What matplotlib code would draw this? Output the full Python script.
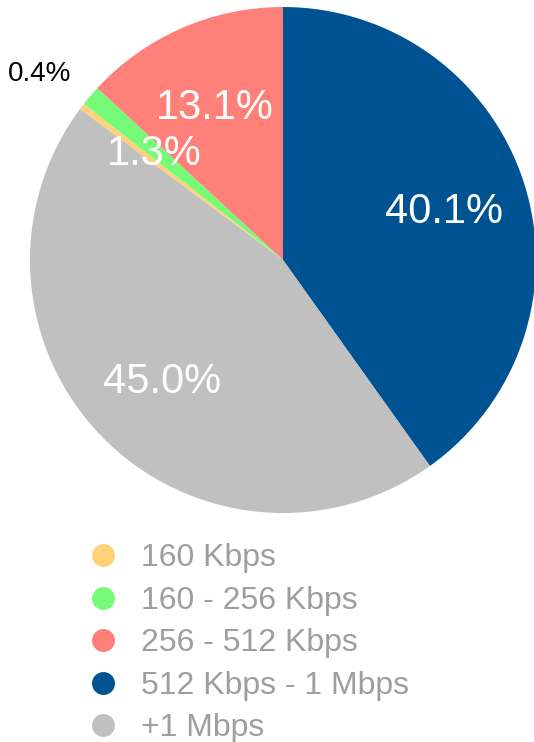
import matplotlib.pyplot as plt
from matplotlib.lines import Line2D

plt.rcParams['font.family'] = ['Liberation Sans', 'DejaVu Sans']

# legend order
labels = ["160 Kbps", "160 - 256 Kbps", "256 - 512 Kbps", "512 Kbps - 1 Mbps", "+1 Mbps"]
shares = [0.4, 1.3, 13.1, 40.1, 45.0]
colors = ["#FFD27A", "#75FB77", "#FF7F79", "#005392", "#C0C0C0"]

# order the slices are drawn, clockwise from 12 o'clock
draw_order = [3, 4, 0, 1, 2]

fig = plt.figure(figsize=(5.34, 7.42), dpi=100)
ax = fig.add_axes([0, 0, 1, 1])

vals = [shares[i] for i in draw_order]
cols = [colors[i] for i in draw_order]
wedges, texts, autotexts = ax.pie(
    vals, colors=cols, startangle=90, counterclock=False,
    autopct='%.1f%%', pctdistance=0.67,
    wedgeprops=dict(linewidth=0),
    textprops=dict(color='white', fontsize=30),
)

# smallest slice label sits outside in black
small = draw_order.index(0)
x, y = autotexts[small].get_position()
autotexts[small].set_position((x / 0.67 * 1.21, y / 0.67 * 1.21))
autotexts[small].set_color('black')
autotexts[small].set_fontsize(20)

for i, t in enumerate(autotexts):
    if i != small:
        x, y = t.get_position()
        t.set_position((x, y - 0.015))

# pixel mapping: centre (283, 260), radius 253
r = 253
ax.set_xlim(-283 / r, (534 - 283) / r)
ax.set_ylim(-(742 - 260) / r, 260 / r)
ax.set_aspect('auto')
ax.axis('off')

handles = [Line2D([], [], marker='o', linestyle='none', markersize=16.5,
                  markerfacecolor=c, markeredgewidth=0) for c in colors]
fig.legend(handles, labels, loc='upper left', bbox_to_anchor=(71 / 534, 1 - 527.5 / 742),
           frameon=False, fontsize=23, labelcolor='#9E9E9E',
           handlelength=1.0, handletextpad=0.7, labelspacing=0.39, borderpad=0)

plt.savefig("out.png", dpi=100)
